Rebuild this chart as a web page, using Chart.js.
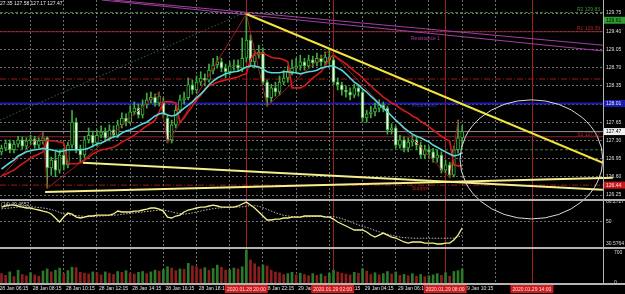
<!DOCTYPE html>
<html><head><meta charset="utf-8">
<script src="https://cdn.jsdelivr.net/npm/chart.js@4/dist/chart.umd.min.js"></script>
<style>html,body{margin:0;padding:0;background:#000;overflow:hidden}canvas{display:block}</style>
</head><body>
<canvas id="c" width="625" height="294"></canvas>
<script>
// ---------------- DATA ----------------
const opens = [127.08,127.15,127.25,127.12,127.23,127.31,127.19,127.29,127.33,127.21,
127.29,127.35,126.77,126.92,126.73,127.02,126.83,127.21,127.65,127.12,
127.02,127.31,127.40,127.25,127.40,127.46,127.35,127.50,127.40,127.60,
127.73,127.65,127.85,127.92,127.79,127.98,128.08,128.13,128.02,128.04,
127.73,127.31,127.60,127.88,128.08,128.12,128.37,128.27,128.42,128.50,
128.46,128.65,128.75,128.81,128.69,128.62,128.73,128.75,128.69,128.88,
129.23,128.81,128.94,129.00,128.42,128.12,128.31,128.23,128.42,128.50,
128.62,128.69,128.73,128.81,128.73,128.85,128.79,128.88,128.81,128.90,
128.85,128.42,128.37,128.27,128.23,128.17,128.31,128.23,127.73,127.81,
127.85,127.92,127.98,127.92,127.50,127.54,127.21,127.31,127.15,127.27,
127.31,127.21,127.02,127.12,127.08,126.96,127.02,126.73,126.83,126.63,
127.12,127.35];
const highs = [127.21,127.31,127.31,127.29,127.38,127.37,127.35,127.40,127.38,127.35,
127.46,127.37,126.98,127.08,127.12,127.15,127.27,127.88,127.73,127.21,
127.38,127.54,127.48,127.50,127.58,127.54,127.60,127.58,127.69,127.83,
127.81,127.96,128.04,128.00,128.08,128.21,128.23,128.19,128.23,128.12,
127.79,127.69,127.98,128.17,128.23,128.50,128.46,128.54,128.62,128.58,
128.77,128.88,128.92,128.88,128.77,128.81,128.85,128.85,129.27,129.73,
129.33,129.04,129.13,129.08,128.46,128.38,128.42,128.54,128.65,128.73,
128.85,128.88,128.94,128.88,128.94,128.92,128.98,128.94,129.00,129.04,
128.90,128.50,128.42,128.35,128.31,128.38,128.37,128.27,127.88,127.96,
128.02,128.08,128.04,127.96,127.62,127.58,127.40,127.37,127.35,127.40,
127.37,127.27,127.21,127.19,127.15,127.12,127.08,126.92,126.88,127.19,
127.69,127.58];
const lows = [127.02,127.10,127.06,127.06,127.17,127.13,127.13,127.23,127.15,127.15,
127.23,126.38,126.63,126.60,126.67,126.73,126.77,127.15,127.06,126.87,
126.96,127.25,127.17,127.19,127.35,127.29,127.29,127.35,127.35,127.54,
127.58,127.62,127.79,127.73,127.73,127.92,128.02,127.96,127.96,127.73,
127.25,127.25,127.54,127.83,128.00,128.08,128.19,128.21,128.37,128.35,
128.42,128.58,128.69,128.62,128.50,128.56,128.65,128.62,128.62,128.81,
128.73,128.69,128.88,128.37,127.96,128.04,128.15,128.17,128.37,128.42,
128.56,128.62,128.65,128.65,128.69,128.71,128.73,128.73,128.75,128.77,
128.37,128.27,128.17,128.13,128.08,128.12,128.15,127.65,127.65,127.73,
127.77,127.85,127.85,127.42,127.42,127.15,127.15,127.08,127.08,127.19,
127.12,126.96,126.96,126.98,126.88,126.88,126.67,126.67,126.58,126.60,
127.06,127.17];
const closes = [127.15,127.25,127.12,127.23,127.31,127.19,127.29,127.33,127.21,127.29,
127.35,126.77,126.92,126.73,127.02,126.83,127.21,127.65,127.12,127.02,
127.31,127.40,127.25,127.40,127.46,127.35,127.50,127.40,127.60,127.73,
127.65,127.85,127.92,127.79,127.98,128.08,128.13,128.02,128.15,127.79,
127.31,127.60,127.88,128.08,128.12,128.37,128.27,128.42,128.50,128.46,
128.65,128.75,128.81,128.69,128.62,128.73,128.75,128.69,128.88,129.23,
128.81,128.94,129.00,128.42,128.12,128.31,128.23,128.42,128.50,128.62,
128.69,128.73,128.81,128.73,128.85,128.79,128.88,128.81,128.90,128.85,
128.42,128.37,128.27,128.23,128.17,128.31,128.23,127.73,127.81,127.85,
127.92,127.98,127.92,127.50,127.54,127.21,127.31,127.15,127.27,127.31,
127.21,127.02,127.12,127.08,126.96,127.02,126.73,126.83,126.63,127.12,
127.35,127.47];
const volumes = [220,180,260,150,300,200,170,240,190,160,
280,330,260,300,350,220,290,370,360,250,
230,210,260,240,190,260,230,200,270,250,
290,230,210,250,270,220,260,300,280,310,
380,350,290,330,320,460,400,380,330,360,
300,340,420,370,300,310,350,330,380,770,
540,450,380,420,400,300,260,240,200,220,
250,190,230,200,170,220,180,210,160,230,
300,260,230,210,190,250,230,330,280,200,
240,190,220,270,210,260,180,200,170,220,
160,200,150,170,190,220,180,240,160,270,
290,330];
const maFast = [126.75,126.81,126.87,126.92,127.00,127.04,127.08,127.10,127.12,127.13,
127.15,127.13,127.12,127.10,127.08,127.10,127.12,127.12,127.12,127.12,
127.13,127.15,127.19,127.23,127.25,127.29,127.33,127.37,127.38,127.44,
127.48,127.50,127.54,127.58,127.62,127.65,127.71,127.77,127.81,127.83,
127.79,127.77,127.79,127.85,127.92,127.98,128.04,128.12,128.19,128.27,
128.37,128.44,128.50,128.54,128.58,128.60,128.62,128.63,128.67,128.71,
128.73,128.73,128.71,128.67,128.62,128.60,128.60,128.60,128.62,128.62,
128.60,128.60,128.58,128.60,128.62,128.63,128.65,128.69,128.71,128.73,
128.73,128.69,128.65,128.58,128.50,128.42,128.37,128.29,128.23,128.15,
128.08,128.00,127.92,127.85,127.77,127.69,127.62,127.54,127.48,127.42,
127.38,127.35,127.31,127.27,127.21,127.17,127.12,127.08,127.04,127.00,
127.02,127.06];
const maSlow = [126.62,126.65,126.69,126.73,126.79,126.85,126.90,126.96,127.00,127.04,
127.08,127.31,127.29,127.29,127.27,127.25,126.85,126.85,126.85,126.87,
126.92,126.98,127.04,127.08,127.12,127.13,127.15,127.17,127.21,127.27,
127.31,127.35,127.40,127.46,127.52,127.58,127.63,127.69,127.85,128.04,
128.04,128.04,128.02,127.65,127.73,127.85,127.96,128.08,128.17,128.29,
128.35,128.38,128.42,128.44,128.46,128.48,128.50,128.52,128.56,128.58,
128.85,128.98,128.96,128.98,128.94,128.90,128.88,128.88,128.85,128.81,
128.31,128.31,128.31,128.35,128.42,128.50,128.56,128.62,128.73,128.88,
128.94,128.88,128.83,128.77,128.71,128.63,128.58,128.50,128.42,128.35,
128.27,128.21,128.13,128.08,128.02,127.98,127.92,127.87,127.83,127.77,
127.73,127.67,127.62,127.56,127.50,127.44,127.38,127.33,127.29,126.83,
126.81,126.81];
const oscMain = [62.0,62.9,63.7,63.7,62.9,62.0,61.2,61.2,60.3,59.5,
58.6,57.8,56.1,52.7,49.3,53.5,56.9,56.1,53.5,52.7,
53.5,54.4,54.4,55.2,55.2,55.2,55.2,56.1,58.6,57.8,
57.8,57.8,58.6,58.6,59.5,60.3,61.2,61.2,60.3,58.6,
53.5,52.7,54.4,55.2,57.8,59.5,60.3,61.2,62.0,62.0,
62.9,63.7,62.9,62.0,62.0,62.0,62.0,62.9,64.6,66.2,
63.7,61.2,57.8,54.4,51.0,51.0,51.8,51.8,52.7,52.7,
53.5,53.5,53.5,54.4,54.4,54.4,54.4,54.4,53.5,53.5,
51.8,49.3,47.6,45.9,44.2,42.5,42.5,42.5,40.8,38.2,
36.5,38.2,39.9,38.2,36.5,35.7,34.0,32.3,31.4,32.3,
32.3,32.3,31.4,31.4,31.4,30.6,30.6,31.4,31.4,34.0,
38.2,44.2];
const oscSignal = [60.5,60.8,61.2,61.6,62.0,62.2,62.3,62.2,62.0,61.6,
61.2,60.6,59.9,58.9,57.4,56.2,55.6,55.0,54.8,54.4,
54.0,53.8,54.0,54.2,54.4,54.6,54.8,55.0,55.3,55.8,
56.2,56.6,57.0,57.4,57.8,58.2,58.6,59.0,59.4,59.5,
58.8,57.9,57.0,56.4,56.0,56.4,57.0,57.8,58.6,59.4,
60.0,60.6,61.1,61.4,61.6,61.8,61.9,62.0,62.2,62.8,
63.2,63.2,62.6,61.5,60.1,58.6,57.2,56.0,55.0,54.4,
54.0,53.8,53.7,53.7,53.8,53.9,54.0,54.0,54.0,54.0,
53.8,53.2,52.2,51.0,49.6,48.2,46.8,45.6,44.6,43.6,
42.0,41.0,40.0,39.0,38.0,37.2,36.5,36.0,35.8,35.6,
35.5,35.5,35.5,35.5,35.5,35.5,35.5,35.5,35.5,35.6,
36.5,38.0];
// zigzag swing points [bar index, price]
const zigzag = [[-0.4,126.58],[10,127.46],[11,126.38],[19,126.87],[38,128.23],[40,127.25],[59,129.73],[64,127.96],[79,129.04],[108,126.58],[110,127.69]];
// drawn trend objects [bar index, price]
const trendUpper = [[59,129.73],[144.9,126.87]];
const trendLowA = [[19.6,126.87],[144.9,126.35]];
const trendLowB = [[10.5,126.31],[147.3,126.58]];
const resistA = [[26.9,130.0],[144.9,129.13]];
const resistB = [[24.2,130.0],[144.9,129.02]];
const channelDots = [[-0.4,127.69],[59,129.77]];
const ellipseBox = {i1:110.5, i2:144.9, pTop:128.08, pBottom:125.79};
// horizontal levels
const levelGreenTop = 129.76, levelMaroonTop = 129.39, levelRedDash = 128.48, levelBlue = 128.01;
const levelBid = 127.47, levelMaroonMid = 127.37, levelGreenMid = 127.12, levelRedLow = 126.44;
// ticks
const priceTicks = [129.75,129.40,129.05,128.70,128.35,128.00,127.65,127.30,126.95,126.60,126.25];
const oscTicks = ["66.2727","50","30.5764"];
const volTicks = ["700","0"];
const timeLabels = ["28 Jan 06:15","28 Jan 08:15","28 Jan 10:15","28 Jan 12:15","28 Jan 14:15","28 Jan 16:15","28 Jan 18:15","28 Jan 20:15","28 Jan 22:15","29 Jan 00:15","29 Jan 02:15","29 Jan 04:15","29 Jan 06:15","29 Jan 08:15","29 Jan 10:15"];
const vLineIdx = [59, 79.8, 106.9, 127.8];
const vLineLabels = ["2020.01.28 20:00","2020.01.29 02:00","2020.01.29 08:00","2020.01.29 14:00"];
const axisBoxes = [[129.61,"129.61"],[128.01,"128.01"],[127.47,"127.47"],[126.44,"126.44"]];
const header = "27.35 127.58 127.17 127.47";

// ---------------- CHART ----------------
const X_MIN = -0.36, X_MAX = 144.94, FIRST_TICK = 3, TICK_STEP = 8;
const FONT = "'Liberation Sans', Arial, sans-serif";
const idx = closes.map((_, i) => i);
const pts = arr => arr.map(p => ({x: p[0], y: p[1]}));
const hline = p => [{x: X_MIN, y: p}, {x: X_MAX, y: p}];
const green = '#3fae3f';

const datasets = [
  {type:'line', data: idx.map(i => ({x:i, y:maFast[i]})), borderColor:'#5cd6df', borderWidth:1.6, pointRadius:0, yAxisID:'y', order:0},
  {type:'line', data: idx.map(i => ({x:i, y:maSlow[i]})), borderColor:'#d41a1a', borderWidth:1.6, pointRadius:0, yAxisID:'y', order:0},
  {type:'line', data: pts(zigzag), borderColor:'#9a1c1c', borderWidth:1, pointRadius:0, yAxisID:'y', order:1},
  {type:'line', data: pts(trendUpper), borderColor:'#f2e43a', borderWidth:2, pointRadius:0, yAxisID:'y', order:0},
  {type:'line', data: pts(trendLowA), borderColor:'#f4ef8c', borderWidth:2, pointRadius:0, yAxisID:'y', order:0},
  {type:'line', data: pts(trendLowB), borderColor:'#f4ef8c', borderWidth:2, pointRadius:0, yAxisID:'y', order:0, clip:{left:0,top:0,right:12,bottom:0}},
  {type:'line', data: pts(resistA), borderColor:'#a43ea4', borderWidth:1, pointRadius:0, yAxisID:'y', order:0},
  {type:'line', data: pts(resistB), borderColor:'#a43ea4', borderWidth:1, pointRadius:0, yAxisID:'y', order:0},
  {type:'line', data: pts(channelDots), borderColor:'#2f6a2f', borderWidth:1, borderDash:[1.5,2], pointRadius:0, yAxisID:'y', order:6},
  // horizontal levels
  {type:'line', data: hline(levelGreenTop), borderColor:'#3d7d3d', borderWidth:1, borderDash:[3,2], pointRadius:0, yAxisID:'y', order:7},
  {type:'line', data: hline(levelMaroonTop), borderColor:'#8e2030', borderWidth:1, pointRadius:0, yAxisID:'y', order:7},
  {type:'line', data: hline(levelRedDash), borderColor:'#a01818', borderWidth:1, borderDash:[6,2,1,2], pointRadius:0, yAxisID:'y', order:7},
  {type:'line', data: hline(levelBlue), borderColor:'#1c1cb0', borderWidth:2, pointRadius:0, yAxisID:'y', order:7},
  {type:'line', data: hline(levelBid), borderColor:'#8c8c8c', borderWidth:1, pointRadius:0, yAxisID:'y', order:7},
  {type:'line', data: hline(levelMaroonMid), borderColor:'#8e2030', borderWidth:1, pointRadius:0, yAxisID:'y', order:7},
  {type:'line', data: hline(levelGreenMid), borderColor:'#3d7d3d', borderWidth:1, borderDash:[3,2], pointRadius:0, yAxisID:'y', order:7},
  {type:'line', data: hline(levelRedLow), borderColor:'#a01818', borderWidth:1, borderDash:[6,2,1,2], pointRadius:0, yAxisID:'y', order:7},
  // candles
  {type:'bar', data: idx.map(i => ({x:i, y:[lows[i], highs[i]]})), backgroundColor: green, borderWidth:0, barThickness:1, grouped:false, yAxisID:'y', order:4},
  {type:'bar', data: idx.map(i => ({x:i, y:[opens[i], closes[i]]})),
    backgroundColor: c => closes[c.dataIndex] < opens[c.dataIndex] ? '#eef9e8' : '#000000',
    borderColor: green, borderWidth:1, borderSkipped:false, barThickness:3, grouped:false, yAxisID:'y', order:3},
  // oscillator
  {type:'line', data: idx.map(i => ({x:i, y:oscMain[i]})), borderColor:'#f2f08a', borderWidth:1.3, pointRadius:0, yAxisID:'yOsc', order:0},
  {type:'line', data: idx.map(i => ({x:i, y:oscSignal[i]})), borderColor:'#bdbdbd', borderWidth:1, borderDash:[1.5,1.5], pointRadius:0, yAxisID:'yOsc', order:1},
  // volume
  {type:'bar', data: idx.map(i => ({x:i, y:volumes[i]})),
    backgroundColor: c => (c.dataIndex > 0 && volumes[c.dataIndex] > volumes[c.dataIndex-1]) ? '#2a7a2a' : '#8c1e1e',
    borderWidth:0, barThickness:2, grouped:false, yAxisID:'yVol', order:2}
];

const gridColor = 'rgba(200,200,200,0.55)';
const tickFont = {size:5, family:FONT};
const zeroPad = s => { s.paddingTop = 0; s.paddingBottom = 0; s.paddingLeft = 0; s.paddingRight = 0; };
const yAxisCommon = {
  type:'linear', position:'right', stack:'panels', offset:false,
  grid:{color:gridColor, drawTicks:false, lineWidth:1},
  border:{display:true, color:'#a0a0a0', width:1, dash:[2,2]},
  ticks:{color:'#dedede', font:tickFont, padding:3, autoSkip:false}
};

const overlay = {
  id:'overlay',
  beforeDraw(chart){ const c = chart.ctx; c.save(); c.fillStyle = '#000'; c.fillRect(0,0,chart.width,chart.height); c.restore(); },
  beforeDatasetsDraw(chart){
    const c = chart.ctx, xs = chart.scales.x, a = chart.chartArea;
    c.save(); c.strokeStyle = '#a32020'; c.lineWidth = 1;
    vLineIdx.forEach(v => { const px = Math.round(xs.getPixelForValue(v)) + 0.5; c.beginPath(); c.moveTo(px, a.top); c.lineTo(px, a.bottom); c.stroke(); });
    c.restore();
  },
  afterDraw(chart){
    const c = chart.ctx, xs = chart.scales.x, ys = chart.scales.y, yo = chart.scales.yOsc, yv = chart.scales.yVol, a = chart.chartArea;
    c.save();
    // ellipse object
    const ex1 = xs.getPixelForValue(ellipseBox.i1), ex2 = xs.getPixelForValue(ellipseBox.i2);
    const ey1 = ys.getPixelForValue(ellipseBox.pTop), ey2 = ys.getPixelForValue(ellipseBox.pBottom);
    c.strokeStyle = '#d8d8d8'; c.lineWidth = 1;
    c.beginPath(); c.ellipse((ex1+ex2)/2, (ey1+ey2)/2, (ex2-ex1)/2, (ey2-ey1)/2, 0, 0, Math.PI*2); c.stroke();
    // panel separators
    c.fillStyle = '#b4b4b4';
    c.fillRect(0, Math.round(yo.top)-1, chart.width, 2);
    c.fillRect(0, Math.round(yv.top)-1, chart.width, 2);
    c.fillRect(0, Math.round(a.bottom), chart.width, 2);
    c.fillRect(Math.round(a.right), 0, 1, a.bottom);
    // axis price boxes
    const boxCols = [['#2f9a2f','#0a0a0a'],['#1c1cb0','#e8e8ff'],['#f2f2f2','#000'],['#c81c1c','#ffe0e0']];
    c.font = '5px ' + FONT; c.textBaseline = 'middle'; c.textAlign = 'left';
    axisBoxes.forEach((b, k) => {
      const py = ys.getPixelForValue(b[0]);
      c.fillStyle = boxCols[k][0]; c.fillRect(a.right+1, py-3.5, chart.width-a.right-1, 7);
      c.fillStyle = boxCols[k][1]; c.fillText(b[1], a.right+3, py);
    });
    // time boxes for vertical lines
    c.textAlign = 'center';
    vLineIdx.forEach((v, k) => {
      const px = xs.getPixelForValue(v);
      const w = c.measureText(vLineLabels[k]).width + 4;
      c.fillStyle = '#d01c1c'; c.fillRect(px - w/2, a.bottom+2, w, 8);
      c.fillStyle = '#f4dede'; c.fillText(vLineLabels[k], px, a.bottom+6.5);
    });
    // texts
    c.textAlign = 'left';
    c.fillStyle = '#e8e8e8'; c.fillText(header, 0, 4);
    c.fillStyle = '#cfcfcf'; c.fillText('(14) 49.4652', 1, yo.top + 5);
    c.fillStyle = '#a43ea4'; c.fillText('Resistance 1', 411, ys.getPixelForValue(129.25));
    c.fillStyle = '#3535c8'; c.fillText('Pivot Point', 412, ys.getPixelForValue(127.97));
    c.fillStyle = '#b02020'; c.fillText('Support', 412, ys.getPixelForValue(126.37));
    c.textAlign = 'right';
    c.fillStyle = '#3e9a3e'; c.fillText('R2 129.83', a.right-3, ys.getPixelForValue(129.81));
    c.fillStyle = '#b02828'; c.fillText('R1 129.39', a.right-3, ys.getPixelForValue(129.44));
    c.fillStyle = '#b02828'; c.fillText('S1 127.37', a.right-3, ys.getPixelForValue(127.42));
    c.restore();
  }
};

new Chart(document.getElementById('c'), {
  type:'bar',
  data:{datasets},
  options:{
    responsive:false, animation:false, devicePixelRatio:1, events:[],
    layout:{padding:0},
    plugins:{legend:{display:false}, tooltip:{enabled:false}},
    scales:{
      x:{type:'linear', position:'bottom', min:X_MIN, max:X_MAX, offset:false,
        afterBuildTicks: s => { s.ticks = timeLabels.map((_, k) => ({value: FIRST_TICK + TICK_STEP*k})); },
        ticks:{autoSkip:false, maxRotation:0, minRotation:0, color:'#e0e0e0', font:tickFont, padding:3,
          callback:(v, k) => timeLabels[k]},
        grid:{color:gridColor, drawTicks:false, lineWidth:1},
        border:{display:false, dash:[2,2]},
        afterFit: s => { s.height = 11; zeroPad(s); }
      },
      y:{...yAxisCommon, stackWeight:200, min:126.154, max:130.0,
        afterBuildTicks: s => { s.ticks = priceTicks.map(v => ({value:v})); },
        ticks:{...yAxisCommon.ticks, callback: v => v.toFixed(2)},
        afterFit: s => { s.width = 22; zeroPad(s); }
      },
      yOsc:{...yAxisCommon, stackWeight:48, min:27.2, max:68.0,
        afterBuildTicks: s => { s.ticks = oscTicks.map(v => ({value:parseFloat(v)})); },
        grid:{...yAxisCommon.grid, color: c => (c.tick && c.tick.value === 50) ? gridColor : 'rgba(0,0,0,0)'},
        ticks:{...yAxisCommon.ticks, callback: (v, k) => oscTicks[k]},
        afterFit: s => { s.width = 22; zeroPad(s); }
      },
      yVol:{...yAxisCommon, stackWeight:35, min:0, max:820,
        afterBuildTicks: s => { s.ticks = volTicks.map(v => ({value:parseFloat(v)})); },
        grid:{display:false},
        ticks:{...yAxisCommon.ticks, callback: (v, k) => volTicks[k]},
        afterFit: s => { s.width = 22; zeroPad(s); }
      }
    }
  },
  plugins:[overlay]
});
</script>
</body></html>
